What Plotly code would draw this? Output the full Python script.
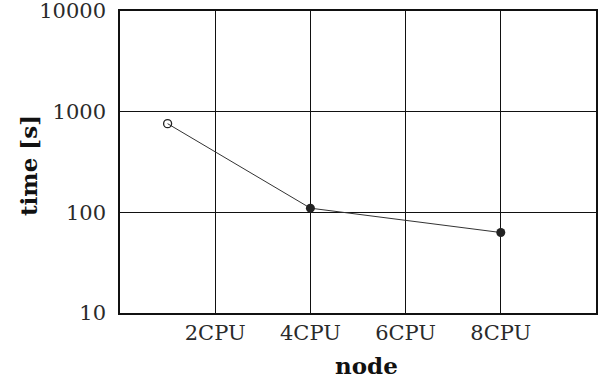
import plotly.graph_objects as go

# data
x_open = [1]
y_open = [760]
x_filled = [4, 8]
y_filled = [110, 63]
x_line = [1, 4, 8]
y_line = [760, 110, 63]
x_tickvals = [2, 4, 6, 8]
x_ticklabels = ["2CPU", "4CPU", "6CPU", "8CPU"]
y_tickvals = [10, 100, 1000, 10000]
y_ticklabels = ["10", "100", "1000", "10000"]
x_title = "node"
y_title = "time [s]"

FONT = "DejaVu Serif"

fig = go.Figure()
fig.add_trace(go.Scatter(x=x_line, y=y_line, mode="lines",
                         line=dict(color="#333333", width=1), showlegend=False))
fig.add_trace(go.Scatter(x=x_open, y=y_open, mode="markers",
                         marker=dict(symbol="circle-open", size=8, color="#222222",
                                     line=dict(width=1.3)), showlegend=False))
fig.add_trace(go.Scatter(x=x_filled, y=y_filled, mode="markers",
                         marker=dict(symbol="circle", size=9, color="#222222"),
                         showlegend=False))

fig.update_layout(
    width=600, height=381,
    margin=dict(l=120, r=4, t=11, b=68),
    paper_bgcolor="white", plot_bgcolor="white",
    font=dict(family=FONT, color="#111111", size=21),
    xaxis=dict(range=[0, 10], tickvals=x_tickvals, ticktext=x_ticklabels,
               showgrid=True, gridcolor="#111111", gridwidth=1.3,
               showline=True, linecolor="#111111", linewidth=1.5, mirror=True,
               zeroline=False, ticks="", ticklabelstandoff=0, automargin=False,
               tickfont=dict(color="#2a2a2a")),
    yaxis=dict(type="log", range=[1, 4], tickvals=y_tickvals, ticktext=y_ticklabels,
               showgrid=True, gridcolor="#111111", gridwidth=1.3,
               showline=True, linecolor="#111111", linewidth=1.5, mirror=True,
               zeroline=False, ticks="", ticklabelstandoff=8, automargin=False,
               ticklabeloverflow="allow",
               tickfont=dict(color="#2a2a2a")),
    annotations=[
        dict(text="<b>" + x_title + "</b>", xref="paper", yref="paper", x=0.5, y=0,
             xanchor="center", yanchor="middle", xshift=8, yshift=-52,
             showarrow=False, font=dict(size=23, family=FONT, color="#111111")),
        dict(text="<b>" + y_title + "</b>", xref="paper", yref="paper", x=0, y=0.5,
             xanchor="center", yanchor="middle", xshift=-92, yshift=-4, textangle=-90,
             showarrow=False, font=dict(size=23, family=FONT, color="#111111")),
    ],
)

fig.write_html("out.html")
